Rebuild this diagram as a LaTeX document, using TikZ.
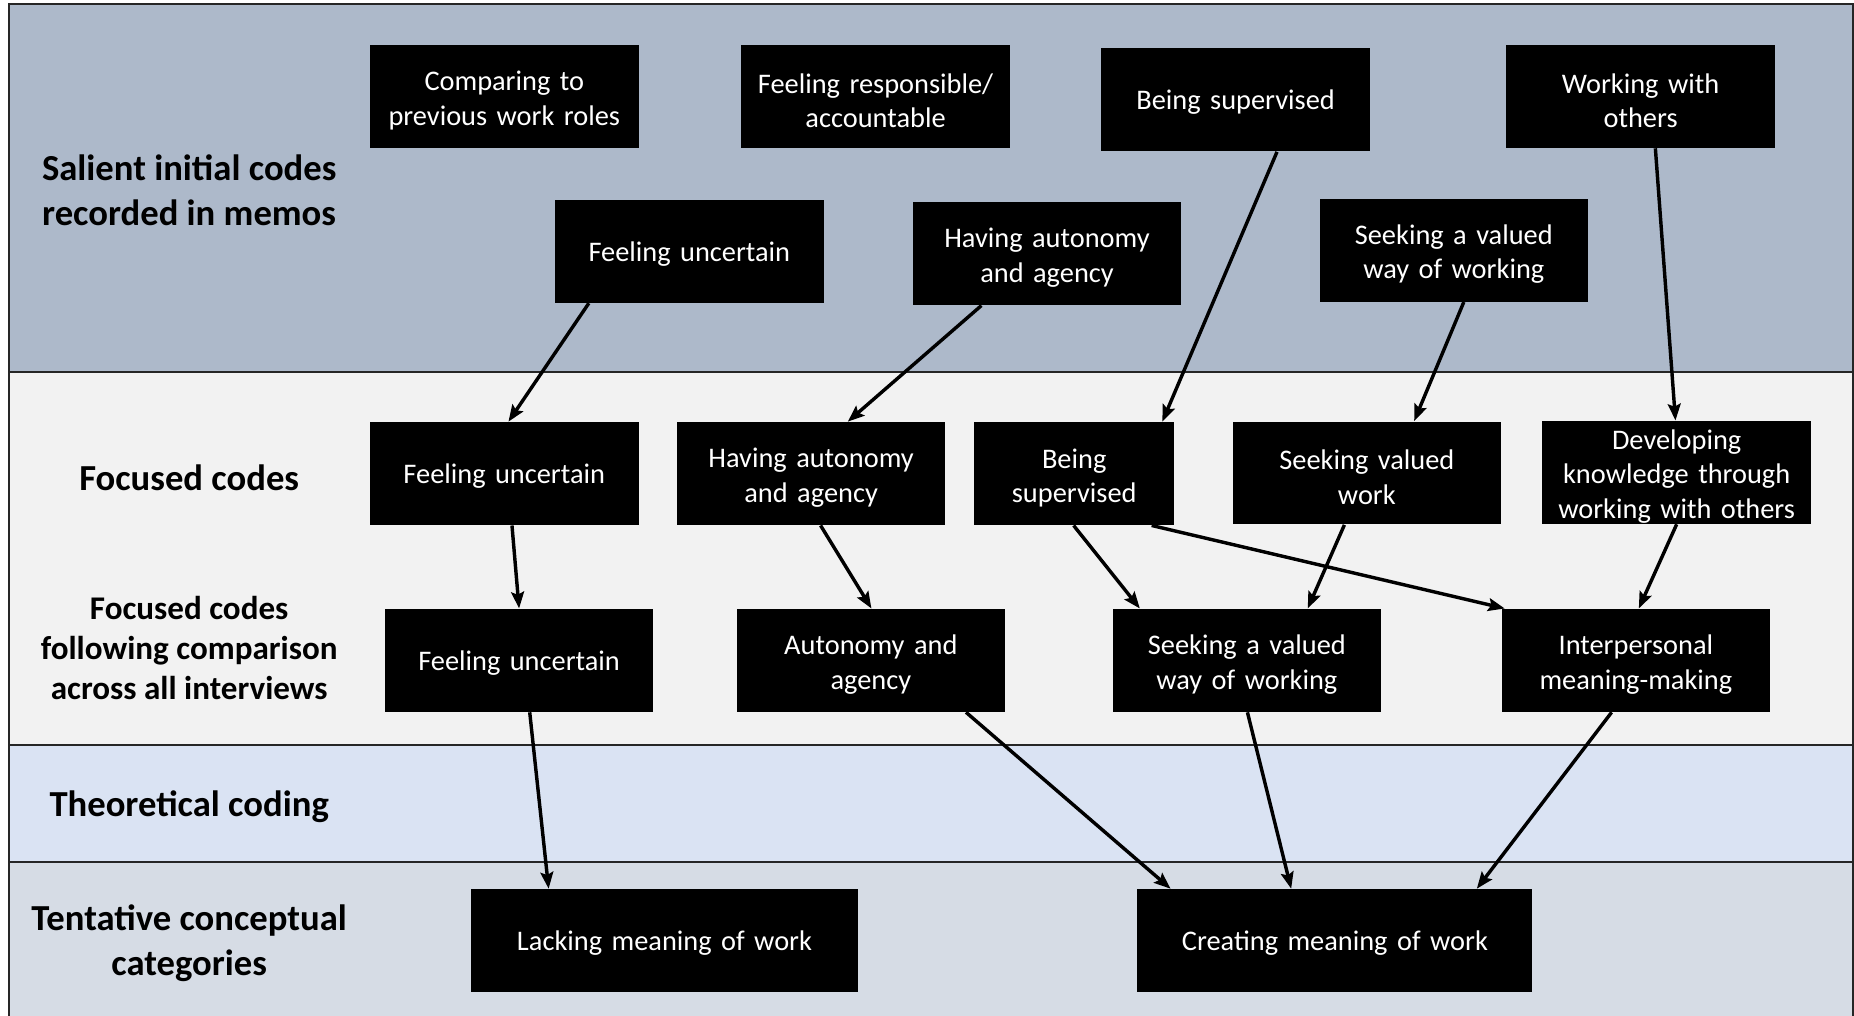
\documentclass[tikz,border=0pt]{standalone}
\usepackage{fontspec}
\setmainfont{Carlito}
\usetikzlibrary{arrows.meta,calc}
\definecolor{bandA}{HTML}{ADB9CA}
\definecolor{bandB}{HTML}{F2F2F2}
\definecolor{bandC}{HTML}{DAE3F3}
\definecolor{bandD}{HTML}{D6DCE5}
\definecolor{rule}{HTML}{262626}
% trims the foot of a box's text so the lines sit a little low in the box
\newcommand\boxtail{\par\kern-3.5pt}

\begin{document}
\begin{tikzpicture}[x=0.5pt,y=-0.5pt,
  codebox/.style={fill=black, text=white, minimum width=113.5pt, minimum height=43.5pt,
    text width=110pt, align=center, inner sep=0pt, font=\fontsize{12}{14.5}\selectfont,
    execute at end node=\boxtail},
  rowlabel/.style={align=center, font=\fontsize{15.5}{19}\selectfont\bfseries},
  link/.style={line width=1.45pt, -{Stealth[length=7pt,width=5.4pt,inset=1.2pt]}},
  bandline/.style={line width=0.9pt, draw=rule}]

\useasboundingbox (0,0) rectangle (1568,859);

% horizontal bands
\fill[bandA] (7.6,3.4) rectangle (1567,314.6);
\fill[bandB] (7.6,314.6) rectangle (1567,630);
\fill[bandC] (7.6,630) rectangle (1567,729);
\fill[bandD] (7.6,729) rectangle (1567,859);

% frame and separators
\draw[bandline] (7.6,859) -- (7.6,3.4) -- (1567,3.4) -- (1567,859);
\draw[bandline] (7.6,314.6) -- (1567,314.6);
\draw[bandline] (7.6,630) -- (1567,630);
\draw[bandline] (7.6,729) -- (1567,729);

% row labels
\node[rowlabel] (lab1) at (160,161) {Salient initial codes\\recorded in memos};
\node[rowlabel] (lab2) at (160,404) {Focused codes};
\node[rowlabel, font=\fontsize{14}{16.8}\selectfont\bfseries] (lab3) at (160,548) {Focused codes\\following comparison\\across all interviews};
\node[rowlabel] (lab4) at (160,682) {Theoretical coding};
\node[rowlabel] (lab5) at (160,798) {Tentative conceptual\\categories};

% salient initial codes
\node[codebox] (compare) at (426.5,81.5) {Comparing to\\previous work roles};
\node[codebox] (respons) at (740.5,81.5) {Feeling responsible/\\accountable};
\node[codebox] (supA) at (1045,84.5) {Being supervised};
\node[codebox] (others) at (1387.5,81.5) {Working with\\others};
\node[codebox] (uncA) at (583,212.5) {Feeling uncertain};
\node[codebox] (autoA) at (885.5,214.5) {Having autonomy\\and agency};
\node[codebox] (valA) at (1229.5,211.5) {Seeking a valued\\way of working};

% focused codes
\node[codebox] (uncB) at (426.5,400.5) {Feeling uncertain};
\node[codebox] (autoB) at (686,400.5) {Having autonomy\\and agency};
\node[codebox, minimum width=84.5pt, text width=82pt] (supB) at (908.5,400.5) {Being\\supervised};
\node[codebox] (valB) at (1156,400) {Seeking valued\\work};
\node[codebox] (know) at (1418,399.5) {Developing\\knowledge through\\working with others};

% focused codes after comparison
\node[codebox] (uncC) at (439,558.5) {Feeling uncertain};
\node[codebox] (autoC) at (736.5,558.5) {Autonomy and\\agency};
\node[codebox] (valC) at (1054.5,558.5) {Seeking a valued\\way of working};
\node[codebox] (inter) at (1383.5,558.5) {Interpersonal\\meaning-making};

% tentative categories
\node[codebox, minimum width=164pt, text width=160pt] (lack) at (562,795.5) {Lacking meaning of work};
\node[codebox, minimum width=167pt, text width=163pt] (create) at (1129,795.5) {Creating meaning of work};

% connectors
\draw[link] ($(uncA.south)+(-85,0)$) -- ($(uncB.north)+(3.5,0)$);
\draw[link] ($(autoA.south)+(-55.5,0)$) -- ($(autoB.north)+(31,0)$);
\draw[link] ($(supA.south)+(35,0)$) -- ($(supB.north)+(74.5,0)$);
\draw[link] ($(valA.south)+(8.5,0)$) -- ($(valB.north)+(40,0)$);
\draw[link] ($(others.south)+(12.5,0)$) -- ($(know.north)+(-1,0)$);

\draw[link] ($(uncB.south)+(6.5,0)$) -- (uncC.north);
\draw[link] ($(autoB.south)+(8,0)$) -- ($(autoC.north)+(0.5,0)$);
\draw[link] ($(supB.south)+(-0.5,0)$) -- ($(valC.north)+(-90.5,0)$);
\draw[link] ($(valB.south)+(-19,0)$) -- ($(valC.north)+(51.5,0)$);
\draw[link] ($(supB.south)+(65.5,0)$) -- ($(inter.north west)+(3,0)$);
\draw[link] (know.south) -- ($(inter.north)+(2.5,0)$);

\draw[link] ($(uncC.south)+(9,0)$) -- ($(lack.north)+(-98,0)$);
\draw[link] ($(autoC.south)+(80.5,0)$) -- ($(create.north)+(-139,0)$);
\draw[link] ($(valC.south)+(0.5,0)$) -- ($(create.north)+(-37,0)$);
\draw[link] ($(inter.south)+(-20.5,0)$) -- ($(create.north)+(120,0)$);
\end{tikzpicture}
\end{document}
